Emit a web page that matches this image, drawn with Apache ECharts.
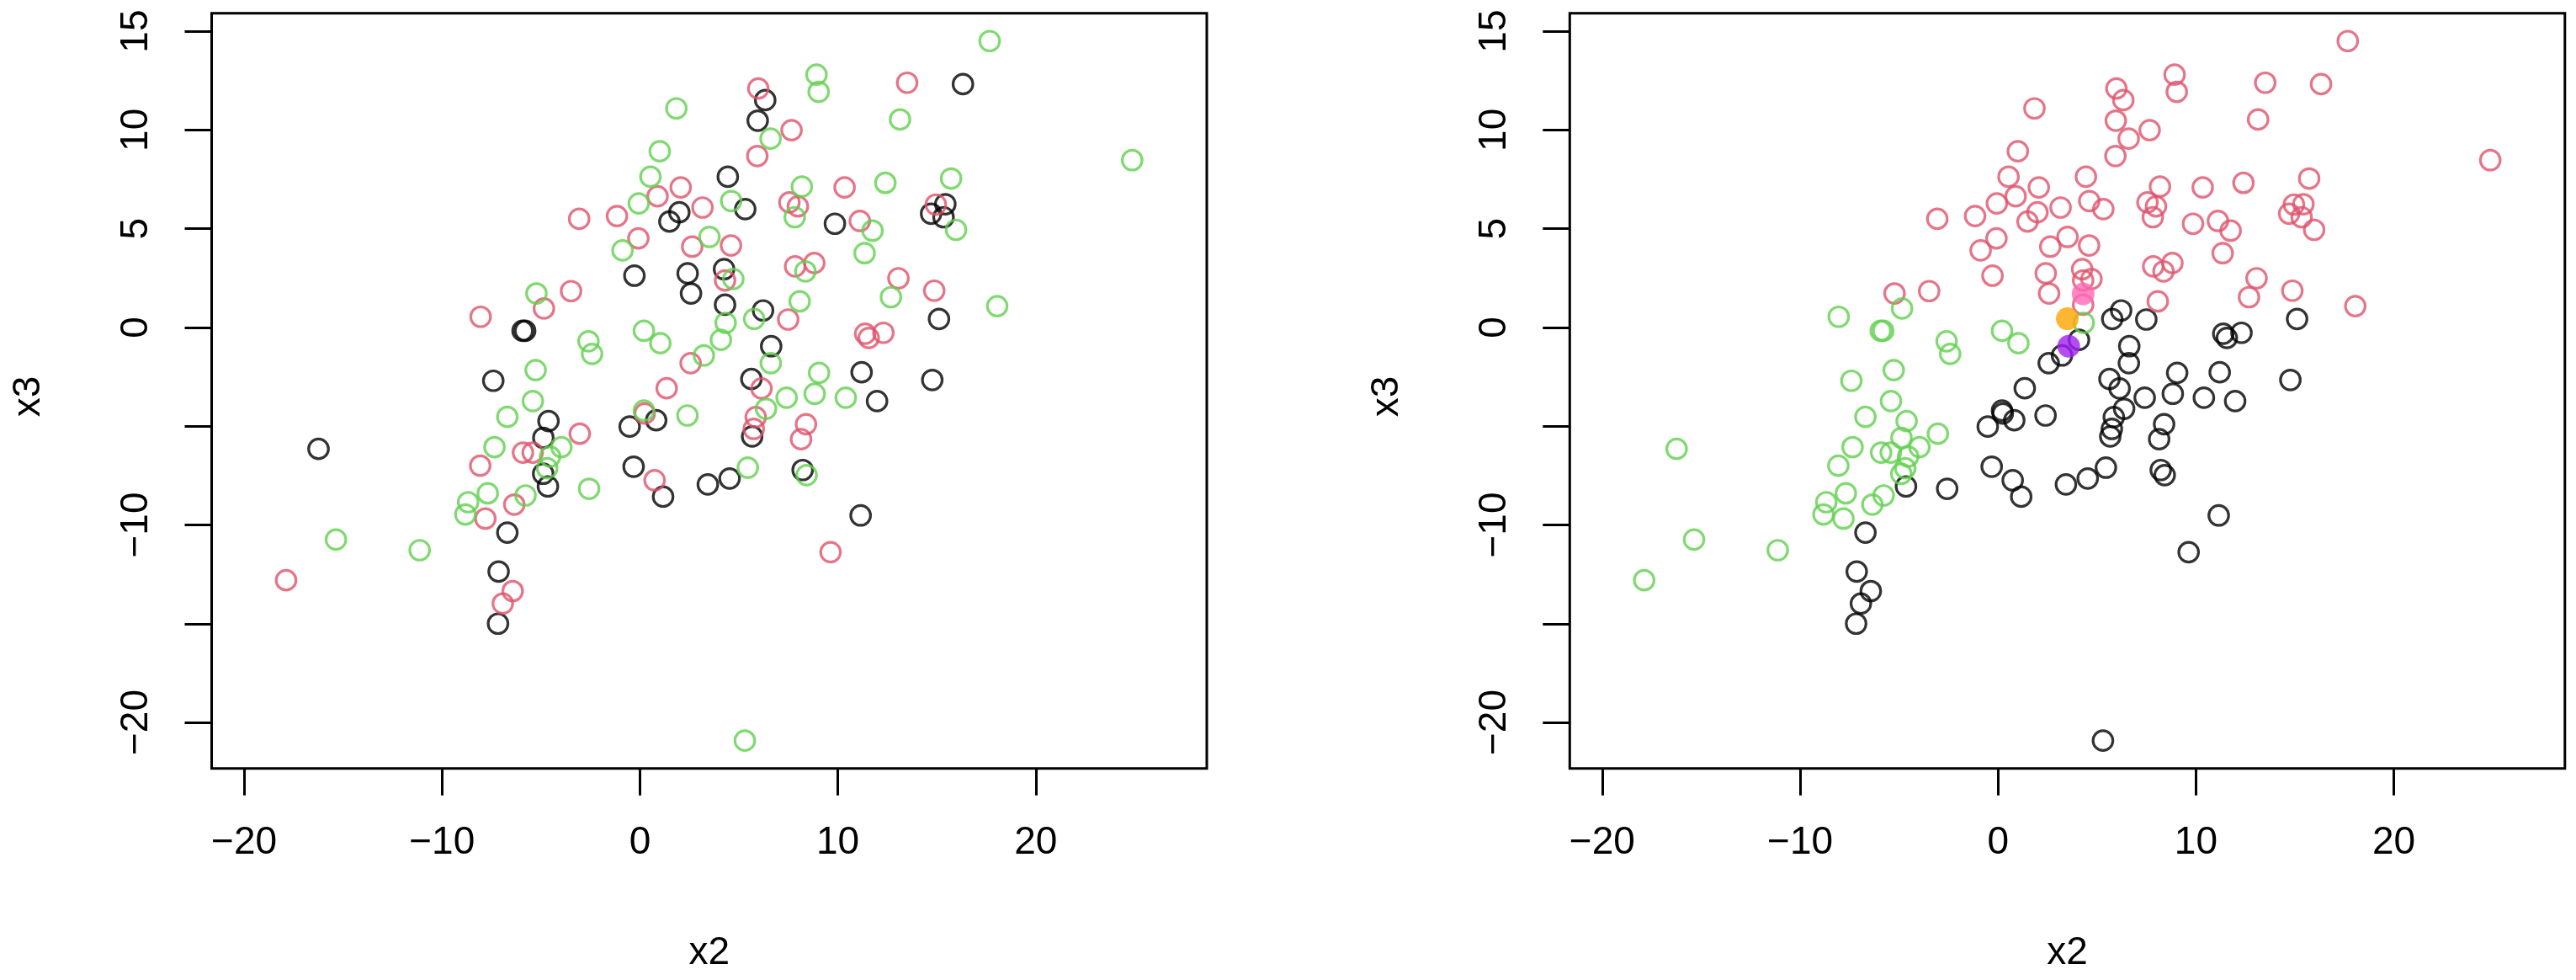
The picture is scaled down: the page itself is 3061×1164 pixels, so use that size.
<!DOCTYPE html>
<html>
<head>
<meta charset="utf-8">
<title>x2 vs x3</title>
<script src="https://cdn.jsdelivr.net/npm/echarts@6/dist/echarts.min.js"></script>
<style>
  html, body { margin: 0; padding: 0; background: #fff; }
  #chart { width: 3061px; height: 1164px; }
</style>
</head>
<body>
<div id="chart"></div>
<script>
// point coordinates
const x2 = [
  1.84, 1.00, 0.53, 2.06, 0.89, -0.06, 1.99, 1.49, 3.16, -3.07,
  -1.16, -0.08, -0.88, 3.51, 2.64, -0.28, 2.41, 2.58, -5.23, -3.48,
  -4.85, -8.05, -5.93, -5.80, -2.60, -2.42, 0.20, 1.03, 3.23, 2.56,
  -5.27, -7.41, 1.35, -5.41,
  17.67, 8.92, 9.03, 13.50, 16.32, 5.98, 6.33, 5.95, 7.66, 6.60,
  13.14, 5.93, 24.87, 4.44, 8.18, 10.34, 12.40, 15.72, 4.61, 5.32,
  7.55, 7.98, 7.82, 9.85, 11.11, 11.75, 11.35, 14.95, 15.43, 14.71,
  15.34, 15.97, 4.60, 4.25, 4.30, 4.72, 7.84, 8.81, 8.36, 13.06,
  14.87, 12.68, 18.05, 4.30, 6.22, 8.07, 5.77, 7.49, 4.33, 15.11,
  11.38, 11.56, 12.30, 4.09, 6.63, 6.61, 9.05, 11.20, 14.77, 5.63,
  6.14, 7.41, 8.83, 10.40, 11.98, 6.37,
  5.85, 5.75, 5.67, 8.39, 8.14, 5.45, 4.53, 3.43, 8.22, 8.42,
  11.15, 9.63, 5.30,
  -6.70, -4.62, -4.88, -3.04, -3.97, -7.35, -5.91, -5.42, -4.54, -4.69,
  -4.89, -4.65, -8.07, 0.20, 0.24, 0.82, -0.52, 2.40, -0.32, 0.74,
  1.17, -7.69, -8.68, -8.82, -7.81, -6.35, -5.78, -2.57, -6.70, -16.24,
  -15.36, -11.13, -17.88, -7.14, -6.43, -6.93, -7.17
];
const x3 = [
  11.09, 8.92, 7.63, 7.09, 6.64, 6.28, 5.83, 5.36, 6.07, 5.50,
  5.64, 4.51, 3.90, 4.58, 4.09, 2.62, 2.74, 1.72, 1.72, 1.84,
  0.96, 0.54, -0.17, -0.17, -0.70, -1.34, -0.17, -0.80, -1.42, -1.81,
  -2.16, -2.70, -3.08, -3.73,
  14.50, 12.80, 11.93, 12.39, 12.32, 12.10, 11.51, 10.47, 9.99, 9.56,
  10.53, 8.68, 8.47, 7.63, 7.13, 7.09, 7.32, 7.54, 6.40, 5.99,
  6.33, 6.13, 5.58, 5.25, 5.39, 4.90, 3.76, 6.22, 6.24, 5.76,
  5.58, 4.94, 4.15, 2.95, 2.38, 2.45, 3.09, 3.26, 2.84, 2.49,
  1.86, 1.53, 1.08, 1.15, 0.86, 1.32, 0.43, 0.40, 0.23, 0.43,
  -0.32, -0.53, -0.27, -0.63, -0.95, -1.81, -2.30, -2.27, -2.66, -2.61,
  -3.09, -3.56, -3.36, -3.56, -3.73, -4.12,
  -4.54, -5.14, -5.52, -4.90, -5.66, -7.10, -7.65, -7.95, -7.22, -7.48,
  -9.52, -11.38, -20.92,
  -4.53, -4.74, -5.59, -5.38, -6.06, -6.06, -6.34, -6.34, -6.54, -7.13,
  -7.41, -8.05, -7.00, -4.21, -4.36, -4.70, -5.02, -4.46, -7.05, -7.74,
  -8.57, -8.40, -8.85, -9.47, -9.68, -8.97, -8.51, -8.17, -10.39, -6.15,
  -10.74, -11.28, -12.80, -12.36, -13.35, -13.98, -15.00
];
// colour group in the left panel (1 black, 2 red, 3 green)
const trueClass = [
  3, 3, 3, 2, 2, 3, 1, 1, 2, 2,
  2, 2, 3, 3, 2, 1, 1, 1, 3, 2,
  2, 2, 1, 1, 3, 3, 3, 3, 3, 2,
  3, 1, 2, 3,
  3, 3, 3, 2, 1, 2, 1, 1, 2, 3,
  3, 2, 3, 1, 3, 2, 3, 3, 3, 1,
  2, 2, 3, 1, 2, 3, 3, 2, 1, 1,
  1, 3, 2, 1, 2, 3, 2, 2, 3, 2,
  2, 3, 3, 1, 1, 3, 3, 2, 3, 1,
  2, 2, 2, 3, 1, 3, 3, 1, 1, 1,
  2, 3, 3, 3, 1, 3,
  2, 2, 1, 2, 2, 3, 1, 1, 1, 3,
  1, 2, 3,
  3, 1, 1, 2, 3, 3, 2, 2, 3, 3,
  1, 1, 2, 3, 2, 1, 1, 3, 1, 2,
  1, 3, 3, 3, 2, 2, 3, 3, 1, 1,
  3, 3, 2, 1, 2, 2, 1
];
// colour group in the right panel (1 black, 2 red, 3 green)
const cluster = [
  2, 2, 2, 2, 2, 2, 2, 2, 2, 2,
  2, 2, 2, 2, 2, 2, 2, 2, 2, 2,
  3, 3, 3, 3, 3, 3, 3, 3, 1, 1,
  3, 3, 1, 3,
  2, 2, 2, 2, 2, 2, 2, 2, 2, 2,
  2, 2, 2, 2, 2, 2, 2, 2, 2, 2,
  2, 2, 2, 2, 2, 2, 2, 2, 2, 2,
  2, 2, 2, 2, 2, 2, 2, 2, 2, 2,
  2, 2, 2, 2, 1, 2, 1, 1, 3, 1,
  1, 1, 1, 1, 1, 1, 1, 1, 1, 1,
  1, 1, 1, 1, 1, 1,
  1, 1, 1, 1, 1, 1, 1, 1, 1, 1,
  1, 1, 1,
  3, 3, 3, 3, 3, 3, 3, 3, 3, 3,
  3, 1, 3, 1, 1, 1, 1, 1, 1, 1,
  1, 3, 3, 3, 3, 3, 3, 1, 1, 3,
  3, 3, 3, 1, 1, 1, 1
];
// the three filled points on the right
const newX2 = [3.50, 4.30, 3.57];
const newX3 = [0.44, 1.70, -0.95];

const xTicks = [-20, -10, 0, 10, 20];
const yTicks = [-20, -15, -10, -5, 0, 5, 10, 15];
const yLabels = [-20, -10, 0, 5, 10, 15];

const palette = { 1: '#000000', 2: '#DF536B', 3: '#61D04F' };
const newColors = ['#FFA500', '#FF69B4', '#A020F0'];
const FONT = '"Liberation Sans", Arial, Helvetica, sans-serif';
const FS = 46;

const chart = echarts.init(document.getElementById('chart'), null, { renderer: 'canvas' });

function pointsOf(groups, g) {
  const out = [];
  for (let i = 0; i < x2.length; i++) {
    if (groups[i] === g) out.push([x2[i], x3[i]]);
  }
  return out;
}

function openSeries(idx, groups, g) {
  return {
    type: 'scatter',
    xAxisIndex: idx, yAxisIndex: idx,
    data: pointsOf(groups, g),
    symbol: 'circle',
    symbolSize: 23.5,
    itemStyle: { color: 'rgba(0,0,0,0)', borderColor: palette[g], borderWidth: 3.2 },
    silent: true
  };
}

// R prints a real minus sign
const fmt = v => String(v).replace('-', '\u2212');

const grids = [
  { left: 251.5, top: 15.7, width: 1182.5, height: 897 },
  { left: 1865.3, top: 15.7, width: 1182.5, height: 897 }
].map(g => Object.assign({ show: true, borderColor: '#000', borderWidth: 3, backgroundColor: 'transparent' }, g));

const xAxes = [0, 1].map(i => ({
  gridIndex: i, type: 'value', min: -21.64, max: 28.64,
  axisLine: { show: false, onZero: false }, splitLine: { show: false },
  axisTick: { show: true, length: 32, lineStyle: { color: '#000', width: 3 }, customValues: xTicks },
  axisLabel: { customValues: xTicks, formatter: fmt, color: '#000', fontSize: FS, fontFamily: FONT, margin: 66 }
}));

const yAxes = [0, 1].map(i => ({
  gridIndex: i, type: 'value', min: -22.33, max: 15.91,
  axisLine: { show: false, onZero: false }, splitLine: { show: false },
  axisTick: { show: true, length: 32, lineStyle: { color: '#000', width: 3 }, customValues: yTicks },
  axisLabel: { customValues: yLabels, formatter: fmt, color: '#000', fontSize: FS, fontFamily: FONT, margin: 66, rotate: 90 }
}));

const series = [];
[1, 2, 3].forEach(g => series.push(openSeries(0, trueClass, g)));
[1, 2, 3].forEach(g => series.push(openSeries(1, cluster, g)));
newX2.forEach((v, k) => {
  series.push({
    type: 'scatter', xAxisIndex: 1, yAxisIndex: 1,
    data: [[v, newX3[k]]],
    symbol: 'circle', symbolSize: 27, z: 5,
    itemStyle: { color: newColors[k] },
    silent: true
  });
});

function title(text, x, y, rot) {
  return {
    type: 'text', x: x, y: y, rotation: rot || 0,
    style: { text: text, fill: '#000', font: FS + 'px ' + FONT, align: 'center', verticalAlign: 'middle' }
  };
}

chart.setOption({
  animation: false,
  backgroundColor: '#fff',
  grid: grids,
  xAxis: xAxes,
  yAxis: yAxes,
  series: series,
  graphic: [
    title('x2', 842.7, 1132),
    title('x2', 2456.5, 1132),
    title('x3', 34, 471, Math.PI / 2),
    title('x3', 1648, 471, Math.PI / 2)
  ]
});
</script>
</body>
</html>
